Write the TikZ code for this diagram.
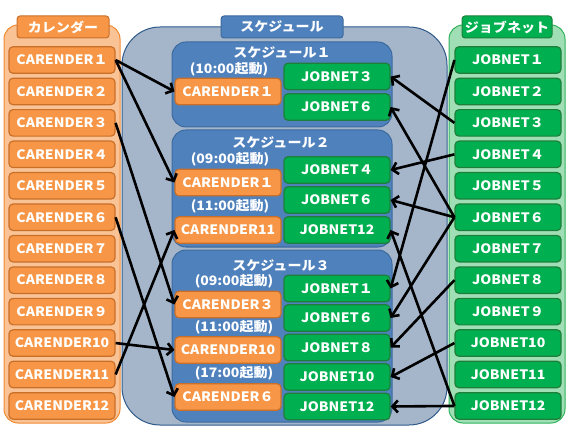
\documentclass[tikz,border=0pt]{standalone}
\usepackage{fontspec}
\setmainfont{Noto Sans CJK JP}[FakeStretch=1.08]
\usetikzlibrary{arrows.meta}
\definecolor{orfill}{HTML}{F79646}
\definecolor{ordraw}{HTML}{C8702A}
\definecolor{orbg}{HTML}{FAC396}
\definecolor{orbgdraw}{HTML}{F08A30}
\definecolor{blfill}{HTML}{4F81BD}
\definecolor{bldraw}{HTML}{3D6A9E}
\definecolor{midbg}{HTML}{A5B6CB}
\definecolor{middraw}{HTML}{2F5A8A}
\definecolor{grfill}{HTML}{00B050}
\definecolor{grdraw}{HTML}{1E7F3A}
\definecolor{grbg}{HTML}{A0DEB5}
\definecolor{grbgdraw}{HTML}{2EB35A}
\tikzset{
  txt/.style={text=white,font=\fontsize{13}{15}\selectfont\bfseries},
  itembox/.style={txt,rounded corners=4pt,line width=1.2pt,minimum width=106pt,minimum height=26.5pt,inner sep=0pt},
  cal/.style={itembox,fill=orfill,draw=ordraw},
  job/.style={itembox,fill=grfill,draw=grdraw},
  tabbox/.style={txt,rounded corners=3pt,line width=1pt,inner sep=0pt},
  lbl/.style={txt,inner sep=0pt},
  arr/.style={line width=2.6pt,black,-{Straight Barb[length=5.5pt,width=12pt]}}
}
\begin{document}
\begin{tikzpicture}[x=1pt,y=-1pt]
\useasboundingbox (0,0) rectangle (569,427);
% containers
\draw[fill=orbg,draw=orbgdraw,line width=1pt,rounded corners=14pt] (4,25) rectangle (120,423);
\draw[fill=midbg,draw=middraw,line width=1pt,rounded corners=38pt] (122,27) rectangle (447,425);
\draw[fill=grbg,draw=grbgdraw,line width=1pt,rounded corners=14pt] (449,25) rectangle (565,423);
% tabs
\node[tabbox,fill=orfill,draw=ordraw,minimum width=92pt,minimum height=22pt] (tabL) at (63,27) {カレンダー};
\node[tabbox,fill=blfill,draw=bldraw,minimum width=122pt,minimum height=22pt] (tabM) at (282,27) {スケジュール};
\node[tabbox,fill=grfill,draw=grdraw,minimum width=90pt,minimum height=22pt] (tabR) at (507,27) {ジョブネット};
% schedule boxes
\draw[fill=blfill,draw=bldraw,line width=1pt,rounded corners=14pt] (172,42) rectangle (392,127);
\draw[fill=blfill,draw=bldraw,line width=1pt,rounded corners=14pt] (172,130) rectangle (392,247);
\draw[fill=blfill,draw=bldraw,line width=1pt,rounded corners=14pt] (172,250) rectangle (392,422);
% left calendars
\foreach \i/\t in {1/CARENDER１,2/CARENDER２,3/CARENDER３,4/CARENDER４,5/CARENDER５,6/CARENDER６,7/CARENDER７,8/CARENDER８,9/CARENDER９,10/CARENDER10,11/CARENDER11,12/CARENDER12}
  \node[cal] (L\i) at (62,{60+31.45*(\i-1)}) {\t};
% right jobnets
\foreach \i/\t in {1/JOBNET１,2/JOBNET２,3/JOBNET３,4/JOBNET４,5/JOBNET５,6/JOBNET６,7/JOBNET７,8/JOBNET８,9/JOBNET９,10/JOBNET10,11/JOBNET11,12/JOBNET12}
  \node[job] (R\i) at (508,{60+31.45*(\i-1)}) {\t};
% schedule 1
\node[lbl] (t1) at (282,53) {スケジュール１};
\node[lbl] (t1a) at (229,69) {(10:00起動)};
\node[cal] (s1c1) at (228,91.5) {CARENDER１};
\node[job] (s1j3) at (337,76.5) {JOBNET３};
\node[job] (s1j6) at (337,107) {JOBNET６};
% schedule 2
\node[lbl] (t2) at (281,143) {スケジュール２};
\node[lbl] (t2a) at (230,159) {(09:00起動)};
\node[cal] (s2c1) at (228,182.5) {CARENDER１};
\node[lbl] (t2b) at (230,206) {(11:00起動)};
\node[cal] (s2c11) at (228,230) {CARENDER11};
\node[job] (s2j4) at (337,170) {JOBNET４};
\node[job] (s2j6) at (337,200) {JOBNET６};
\node[job] (s2j12) at (337,230) {JOBNET12};
% schedule 3
\node[lbl] (t3) at (281,266) {スケジュール３};
\node[lbl] (t3a) at (234,281) {(09:00起動)};
\node[cal] (s3c3) at (228,304.5) {CARENDER３};
\node[lbl] (t3b) at (234,327) {(11:00起動)};
\node[cal] (s3c10) at (228,350) {CARENDER10};
\node[lbl] (t3c) at (234,373) {(17:00起動)};
\node[cal] (s3c6) at (228,397) {CARENDER６};
\node[job] (s3j1) at (337,288.5) {JOBNET１};
\node[job] (s3j6) at (337,318) {JOBNET６};
\node[job] (s3j8) at (337,347.5) {JOBNET８};
\node[job] (s3j10) at (337,377) {JOBNET10};
\node[job] (s3j12) at (337,406.5) {JOBNET12};
% arrows left
\draw[arr] (L1.east) -- (s1c1.west);
\draw[arr] (L1.east) -- (s2c1.west);
\draw[arr] (L3.east) -- (s3c3.west);
\draw[arr] (L6.east) -- (s3c6.west);
\draw[arr] (L10.east) -- (s3c10.west);
\draw[arr] (L11.east) -- (s2c11.west);
% arrows right
\draw[arr] (R1.west) -- (s3j1.east);
\draw[arr] (R3.west) -- (s1j3.east);
\draw[arr] (R4.west) -- (s2j4.east);
\draw[arr] (R6.west) -- (s1j6.east);
\draw[arr] (R6.west) -- (s2j6.east);
\draw[arr] (R6.west) -- (s3j6.east);
\draw[arr] (R8.west) -- (s3j8.east);
\draw[arr] (R10.west) -- (s3j10.east);
\draw[arr] (R12.west) -- (s3j12.east);
\draw[arr] (R12.west) -- (s2j12.east);
\end{tikzpicture}
\end{document}
